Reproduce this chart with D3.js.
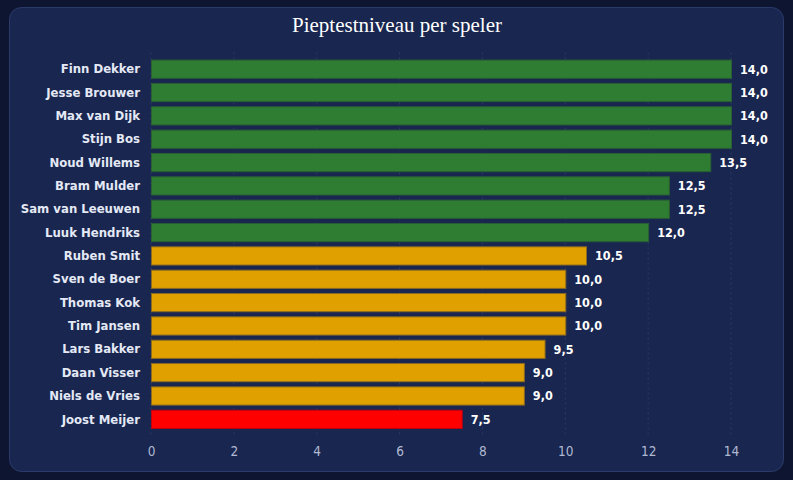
<!DOCTYPE html>
<html>
<head>
<meta charset="utf-8">
<script src="https://cdn.jsdelivr.net/npm/d3@7"></script>
<style>
  html, body { margin: 0; padding: 0; background: #0e1530; }
  #chart { width: 793px; height: 480px; }
</style>
</head>
<body>
<div id="chart"></div>
<script>
// data
const players = ["Finn Dekker", "Jesse Brouwer", "Max van Dijk", "Stijn Bos", "Noud Willems",
    "Bram Mulder", "Sam van Leeuwen", "Luuk Hendriks", "Ruben Smit", "Sven de Boer",
    "Thomas Kok", "Tim Jansen", "Lars Bakker", "Daan Visser", "Niels de Vries", "Joost Meijer"];
const levels = [14.0, 14.0, 14.0, 14.0, 13.5, 12.5, 12.5, 12.0, 10.5, 10.0, 10.0, 10.0, 9.5, 9.0, 9.0, 7.5];
const xTicks = [0, 2, 4, 6, 8, 10, 12, 14];

const W = 793, H = 480;
const margin = {top: 57.5, right: 62, bottom: 48, left: 151};
const width = 731 - margin.left;
const height = 431 - margin.top;

const svg = d3.select("#chart").append("svg")
    .attr("width", W)
    .attr("height", H);

// card
svg.append("rect")
    .attr("x", 9.5).attr("y", 7.5)
    .attr("width", 774).attr("height", 464)
    .attr("rx", 12)
    .attr("fill", "#19264f")
    .attr("stroke", "#2a3a6a")
    .attr("stroke-width", 1);

svg.append("text")
    .attr("x", 397).attr("y", 32)
    .attr("text-anchor", "middle")
    .attr("fill", "#ffffff")
    .style("font-family", "'Liberation Serif', 'Times New Roman', serif")
    .style("font-size", "21px")
    .text("Pieptestniveau per speler");

const g = svg.append("g")
    .attr("transform", "translate(" + margin.left + "," + margin.top + ")");

const x = d3.scaleLinear().domain([0, 14]).range([0, width]);
const y = d3.scaleBand().domain(players).range([0, height]).paddingInner(0.22).paddingOuter(0.11);

function barColor(v) {
    if (v >= 12) return "#2e7d32";
    if (v >= 8.5) return "#e0a000";
    return "#ff0000";
}
function strokeColor(v) {
    if (v >= 12) return "#2a5e34";
    if (v >= 8.5) return "#8a6a20";
    return "#c00010";
}

// grid
g.selectAll(".grid")
    .data(xTicks)
    .enter().append("line")
    .attr("class", "grid")
    .attr("x1", d => x(d)).attr("x2", d => x(d))
    .attr("y1", -5).attr("y2", height + 4)
    .attr("stroke", "#2c3a66")
    .attr("stroke-dasharray", "2,3");

// bars
g.selectAll(".bar")
    .data(levels)
    .enter().append("rect")
    .attr("class", "bar")
    .attr("x", x(0) + 0.5)
    .attr("y", (d, i) => y(players[i]))
    .attr("width", d => x(d) - x(0))
    .attr("height", y.bandwidth())
    .attr("fill", d => barColor(d))
    .attr("stroke", d => strokeColor(d))
    .attr("stroke-width", 1);

// value labels
g.selectAll(".val")
    .data(levels)
    .enter().append("text")
    .attr("class", "val")
    .attr("x", d => x(d) + 9)
    .attr("y", (d, i) => y(players[i]) + y.bandwidth() / 2)
    .attr("dy", "0.35em")
    .attr("fill", "#ffffff")
    .style("font-family", "'DejaVu Sans Condensed', Roboto, sans-serif")
    .style("font-weight", "bold")
    .style("font-size", "12.5px")
    .text(d => d.toFixed(1).replace(".", ","));

// y axis labels
const yAxis = d3.axisLeft(y).tickSize(0).tickPadding(11);
g.append("g")
    .attr("class", "y-axis")
    .call(yAxis)
    .call(s => s.select(".domain").remove())
    .selectAll("text")
    .attr("fill", "#e4e9f5")
    .style("font-family", "'DejaVu Sans Condensed', Roboto, sans-serif")
    .style("font-weight", "bold")
    .style("font-size", "13px");

// x axis
const xAxis = d3.axisBottom(x).tickValues(xTicks).tickSize(0).tickPadding(15);
g.append("g")
    .attr("class", "x-axis")
    .attr("transform", "translate(0," + height + ")")
    .call(xAxis)
    .call(s => s.select(".domain").remove())
    .selectAll("text")
    .attr("fill", "#b0b9d2")
    .style("font-family", "'DejaVu Sans Condensed', Roboto, sans-serif")
    .style("font-size", "13.5px");
</script>
</body>
</html>
